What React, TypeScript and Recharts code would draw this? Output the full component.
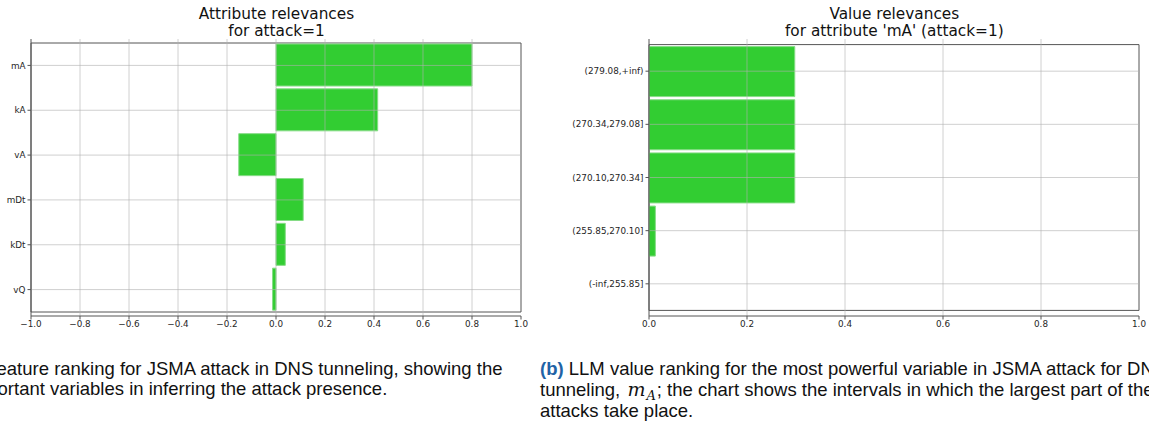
import React from 'react';
import { BarChart, Bar, XAxis, YAxis, ReferenceLine, ReferenceArea } from 'recharts';

// Panel (a): relevance of each attribute
const attributeNames = ['mA', 'kA', 'vA', 'mDt', 'kDt', 'vQ'];
const attributeRelevance = [0.8, 0.415, -0.152, 0.111, 0.038, -0.014];
const attributeTicks = [-1, -0.8, -0.6, -0.4, -0.2, 0, 0.2, 0.4, 0.6, 0.8, 1];

// Panel (b): relevance of each value interval of mA
const intervalNames = ['(279.08,+inf)', '(270.34,279.08]', '(270.10,270.34]', '(255.85,270.10]', '(-inf,255.85]'];
const intervalRelevance = [0.2975, 0.2975, 0.2975, 0.013, 0];
const intervalTicks = [0, 0.2, 0.4, 0.6, 0.8, 1];

const AXIS_FONT = '"DejaVu Sans", sans-serif';
const CAPTION_FONT = '"Liberation Sans", Arial, Helvetica, sans-serif';
const GREEN = '#32cd32';
const BAR_EDGE = '#86dc86';
const SPINE = '#555555';
const GRID = '#b0b0b0';
const TICK_TEXT = '#262626';
const LABEL_BLUE = '#1f63a6';

const fmt = (v: number) => (v < 0 ? '\u2212' : '') + Math.abs(v).toFixed(1);

type PanelProps = {
  names: string[];
  values: number[];
  ticks: number[];
  width: number;
  yAxisWidth: number;
  rightGap: number;
  barSize: number;
  catPad: number;
};

function Panel({ names, values, ticks, width, yAxisWidth, rightGap, barSize, catPad }: PanelProps) {
  const data = names.map((name, i) => ({ name, value: values[i] }));
  const domain: [number, number] = [ticks[0], ticks[ticks.length - 1]];
  const tickStyle = { fontFamily: AXIS_FONT, fontSize: 8.8, fill: TICK_TEXT };
  const inner = ticks.slice(1, -1);
  return (
    <BarChart
      layout="vertical"
      width={width}
      height={340}
      data={data}
      margin={{ top: 39, right: rightGap, bottom: 0, left: 0 }}
    >
      <XAxis
        type="number"
        domain={domain}
        ticks={ticks}
        interval={0}
        allowDataOverflow
        tickFormatter={fmt}
        height={24}
        tick={tickStyle}
        tickSize={3.5}
        tickMargin={1.5}
        tickLine={{ stroke: SPINE }}
        axisLine={{ stroke: SPINE }}
      />
      <YAxis
        type="category"
        dataKey="name"
        width={yAxisWidth}
        interval={0}
        padding={{ top: catPad, bottom: catPad }}
        tick={tickStyle}
        tickSize={3.5}
        tickMargin={2}
        tickLine={{ stroke: SPINE }}
        axisLine={{ stroke: SPINE }}
      />
      <Bar
        dataKey="value"
        fill={GREEN}
        stroke={BAR_EDGE}
        strokeWidth={1}
        barSize={barSize}
        isAnimationActive={false}
      />
      {inner.map((t) => (
        <ReferenceLine key={'gx' + t} x={t} stroke={GRID} strokeOpacity={0.6} strokeWidth={1} />
      ))}
      {names.map((n) => (
        <ReferenceLine key={'gy' + n} y={n} stroke={GRID} strokeOpacity={0.6} strokeWidth={1} />
      ))}
      {/* axes frame */}
      <ReferenceArea x1={domain[0]} x2={domain[1]} fill="none" fillOpacity={0} stroke={SPINE} strokeOpacity={1} strokeWidth={1} />
    </BarChart>
  );
}

const titleStyle = (centerX: number): React.CSSProperties => ({
  position: 'absolute',
  left: centerX - 200,
  top: 6,
  width: 400,
  textAlign: 'center',
  fontFamily: AXIS_FONT,
  fontSize: 15.3,
  lineHeight: '16.6px',
  color: '#111',
  whiteSpace: 'nowrap',
});

const captionStyle = (left: number): React.CSSProperties => ({
  position: 'absolute',
  left,
  top: 358.5,
  fontFamily: CAPTION_FONT,
  fontSize: 18.5,
  lineHeight: '20.6px',
  color: '#111',
  whiteSpace: 'nowrap',
});

export default function App() {
  return (
    <div
      style={{
        position: 'absolute',
        left: 0,
        top: 0,
        width: 1149,
        height: 424,
        overflow: 'hidden',
        background: '#fff',
      }}
    >
      <div style={{ position: 'absolute', left: 0, top: 0 }}>
        <Panel
          names={attributeNames}
          values={attributeRelevance}
          ticks={attributeTicks}
          width={545}
          yAxisWidth={31}
          rightGap={24}
          barSize={42}
          catPad={4}
        />
      </div>
      <div style={{ position: 'absolute', left: 545, top: 0 }}>
        <Panel
          names={intervalNames}
          values={intervalRelevance}
          ticks={intervalTicks}
          width={604}
          yAxisWidth={104}
          rightGap={10}
          barSize={50}
          catPad={5.6}
        />
      </div>

      <div style={titleStyle(276.5)}>
        Attribute relevances
        <br />
        for attack=1
      </div>
      <div style={titleStyle(894.3)}>
        Value relevances
        <br />
        for attribute 'mA' (attack=1)
      </div>

      <div style={captionStyle(-77.5)}>
        <b style={{ color: LABEL_BLUE }}>(a)</b> LLM feature ranking for JSMA attack in DNS tunneling, showing the
        <br />
        most important variables in inferring the attack presence.
      </div>
      <div style={captionStyle(540)}>
        <b style={{ color: LABEL_BLUE }}>(b)</b> LLM value ranking for the most powerful variable in JSMA attack for DNS
        <br />
        tunneling,{' '}
        <span
          style={{
            fontFamily: '"DejaVu Serif", "Liberation Serif", serif',
            fontStyle: 'italic',
            fontSize: 19,
            marginLeft: 2,
            marginRight: 1,
          }}
        >
          m
          <sub style={{ fontSize: 13, lineHeight: 0, verticalAlign: '-0.3em', marginLeft: 1 }}>A</sub>
        </span>
        ; the chart shows the intervals in which the largest part of the
        <br />
        attacks take place.
      </div>
    </div>
  );
}
